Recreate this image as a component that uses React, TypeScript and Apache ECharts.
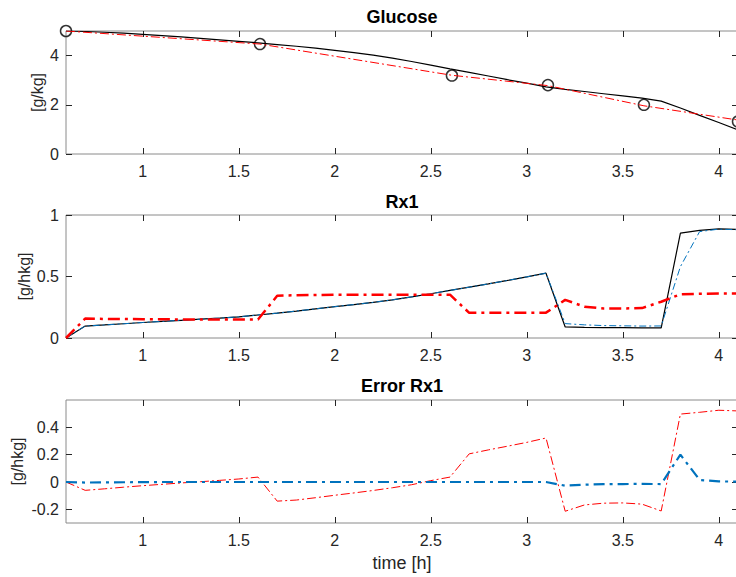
import React, { useEffect, useRef } from "react";
import * as echarts from "echarts";

// ---------- data ----------
const time = [
  0.6, 0.7, 0.8, 0.9, 1.0, 1.1, 1.2, 1.3, 1.4, 1.5, 1.6, 1.7, 1.8, 1.9, 2.0, 2.1, 2.2, 2.3,
  2.4, 2.5, 2.6, 2.7, 2.8, 2.9, 3.0, 3.1, 3.2, 3.3, 3.4, 3.5, 3.6, 3.7, 3.8, 3.9, 4.0, 4.1,
];

// Glucose (top)
const glucoseModel = [
  5.0, 4.98, 4.95, 4.91, 4.86, 4.81, 4.76, 4.7, 4.64, 4.58, 4.52, 4.45, 4.38, 4.3, 4.21, 4.12,
  4.02, 3.9, 3.76, 3.61, 3.46, 3.32, 3.17, 3.02, 2.88, 2.73, 2.63, 2.54, 2.45, 2.36, 2.27, 2.15,
  1.87, 1.57, 1.28, 0.98,
];
const measTimes = [0.6, 1.61, 2.61, 3.11, 3.61, 4.1];
const glucoseMeas = [5.0, 4.47, 3.19, 2.8, 2.0, 1.32];
const glucoseEst = [5.0, 4.47, 3.2, 2.78, 1.96, 1.38];

// Rx1 (middle)
const rx1True = [
  0, 0.097, 0.106, 0.116, 0.126, 0.135, 0.144, 0.153, 0.162, 0.172, 0.187, 0.202, 0.219, 0.237,
  0.255, 0.272, 0.29, 0.31, 0.334, 0.36, 0.387, 0.413, 0.44, 0.468, 0.497, 0.527, 0.09, 0.087,
  0.085, 0.084, 0.083, 0.083, 0.852, 0.875, 0.887, 0.882,
];
const rx1Filter = [
  0, 0.097, 0.106, 0.116, 0.126, 0.135, 0.144, 0.153, 0.162, 0.172, 0.187, 0.202, 0.219, 0.237,
  0.255, 0.272, 0.29, 0.31, 0.334, 0.36, 0.387, 0.413, 0.44, 0.468, 0.497, 0.527, 0.117, 0.107,
  0.101, 0.099, 0.097, 0.098, 0.58, 0.865, 0.885, 0.88,
];
const rx1Interp = [
  0, 0.158, 0.155, 0.154, 0.153, 0.152, 0.151, 0.151, 0.15, 0.15, 0.15, 0.343, 0.348, 0.35,
  0.351, 0.351, 0.352, 0.352, 0.352, 0.352, 0.352, 0.205, 0.205, 0.205, 0.205, 0.206, 0.31,
  0.255, 0.24, 0.24, 0.243, 0.295, 0.355, 0.36, 0.362, 0.362,
];

// Error Rx1 (bottom)
const errFilter = [
  0, -0.004, -0.003, -0.002, -0.001, 0, 0, 0, 0, 0, 0, 0, 0, 0, 0, 0, 0, 0, 0, 0, 0, 0, 0, 0, 0,
  0, -0.027, -0.02, -0.016, -0.015, -0.014, -0.015, 0.2, 0.015, 0.004, 0.003,
];
const errInterp = [
  0, -0.061, -0.05, -0.038, -0.027, -0.017, -0.007, 0.002, 0.012, 0.022, 0.036, -0.14, -0.132,
  -0.115, -0.097, -0.08, -0.062, -0.042, -0.02, 0.01, 0.036, 0.206, 0.235, 0.262, 0.29, 0.322,
  -0.214, -0.168, -0.155, -0.153, -0.162, -0.212, 0.497, 0.51, 0.525, 0.52,
];

const xTicks = [1, 1.5, 2, 2.5, 3, 3.5, 4];
const yTicksTop = [0, 2, 4];
const yTicksMid = [0, 0.5, 1];
const yTicksBot = [-0.2, 0, 0.2, 0.4];

const titles = ["Glucose", "Rx1", "Error Rx1"];
const yNames = ["[g/kg]", "[g/hkg]", "[g/hkg]"];
const xName = "time [h]";

// ---------- styling ----------
const FONT = "'Liberation Sans', Arial, Helvetica, sans-serif";
const TXT = "#262626";
const RED = "#FF0000";
const BLUE = "#0072BD";
const BLACK = "#000000";

const gridTops = [31, 215, 400];
const gridH = 123;
const gridLeft = 66;
const gridW = 672;
const yNameX = [37, 24, 17];

const pairs = (xs: number[], ys: number[]) => xs.map((x, i) => [x, ys[i]]);

export default function App() {
  const ref = useRef<HTMLDivElement>(null);

  useEffect(() => {
    if (!ref.current) return;
    const chart = echarts.init(ref.current, null, { renderer: "svg" });

    const tick = (vals: number[]) => ({
      show: true,
      inside: true,
      length: 6,
      customValues: vals,
      lineStyle: { color: TXT, width: 1 },
    });

    const yRanges = [
      [0, 5, yTicksTop],
      [0, 1, yTicksMid],
      [-0.3, 0.6, yTicksBot],
    ] as [number, number, number[]][];

    const grid = gridTops.map((t) => ({
      left: gridLeft,
      top: t,
      width: gridW,
      height: gridH,
      show: true,
      borderColor: "#8a8a8a",
      borderWidth: 1,
      backgroundColor: "transparent",
    }));

    const noLine = { show: false, onZero: false };

    const xAxis: any[] = [];
    const yAxis: any[] = [];
    gridTops.forEach((_, i) => {
      xAxis.push({
        type: "value",
        gridIndex: i,
        min: 0.6,
        max: 4.1,
        position: "bottom",
        axisLine: noLine,
        axisTick: tick(xTicks),
        axisLabel: {
          customValues: xTicks,
          fontSize: 16,
          color: TXT,
          fontFamily: FONT,
          margin: 9,
        },
        splitLine: { show: false },
      });
      xAxis.push({
        type: "value",
        gridIndex: i,
        min: 0.6,
        max: 4.1,
        position: "top",
        axisLine: noLine,
        axisTick: tick(xTicks),
        axisLabel: { show: false },
        splitLine: { show: false },
      });
      const [mn, mx, yt] = yRanges[i];
      yAxis.push({
        type: "value",
        gridIndex: i,
        min: mn,
        max: mx,
        position: "left",
        axisLine: noLine,
        axisTick: tick(yt),
        axisLabel: {
          customValues: yt,
          fontSize: 16,
          color: TXT,
          fontFamily: FONT,
          margin: 7,
        },
        splitLine: { show: false },
      });
      yAxis.push({
        type: "value",
        gridIndex: i,
        min: mn,
        max: mx,
        position: "right",
        axisLine: noLine,
        axisTick: tick(yt),
        axisLabel: { show: false },
        splitLine: { show: false },
      });
    });

    const line = (
      name: string,
      xs: number[],
      ys: number[],
      g: number,
      color: string,
      width: number,
      dash: any
    ) => ({
      name,
      type: "line",
      xAxisIndex: g * 2,
      yAxisIndex: g * 2,
      data: pairs(xs, ys),
      showSymbol: false,
      symbol: "none",
      lineStyle: { color, width, type: dash },
      emphasis: { disabled: true },
    });

    const series: any[] = [
      line("Glucose model", time, glucoseModel, 0, BLACK, 1.2, "solid"),
      line("Glucose estimate", measTimes, glucoseEst, 0, RED, 1, [9, 3, 2, 3]),
      {
        name: "Glucose measured",
        type: "scatter",
        xAxisIndex: 0,
        yAxisIndex: 0,
        data: pairs(measTimes, glucoseMeas),
        symbol: "circle",
        symbolSize: 11,
        clip: false,
        itemStyle: { color: "transparent", borderColor: BLACK, borderWidth: 1.5 },
        emphasis: { disabled: true },
      },
      line("Rx1 true", time, rx1True, 1, BLACK, 1.2, "solid"),
      line("Rx1 filter", time, rx1Filter, 1, BLUE, 1, [7, 3, 2, 3]),
      line("Rx1 interp", time, rx1Interp, 1, RED, 2.5, [12, 5, 3, 5]),
      line("Err interp", time, errInterp, 2, RED, 1, [9, 3, 2, 3]),
      line("Err filter", time, errFilter, 2, BLUE, 2.2, [11, 5, 3, 5]),
    ];

    const centerX = gridLeft + gridW / 2;
    const titleY = [17, 202, 386];
    const graphic: any[] = [];
    titles.forEach((t, i) => {
      graphic.push({
        type: "text",
        x: centerX,
        y: titleY[i],
        style: {
          text: t,
          align: "center",
          verticalAlign: "middle",
          fontSize: 18,
          fontWeight: "bold",
          fontFamily: FONT,
          fill: "#000",
        },
      });
      graphic.push({
        type: "text",
        x: yNameX[i],
        y: gridTops[i] + gridH / 2,
        rotation: Math.PI / 2,
        style: {
          text: yNames[i],
          align: "center",
          verticalAlign: "middle",
          fontSize: 16,
          fontFamily: FONT,
          fill: TXT,
        },
      });
    });
    graphic.push({
      type: "text",
      x: centerX,
      y: 563,
      style: {
        text: xName,
        align: "center",
        verticalAlign: "middle",
        fontSize: 18,
        fontFamily: FONT,
        fill: TXT,
      },
    });

    chart.setOption({
      animation: false,
      backgroundColor: "#fff",
      grid,
      xAxis,
      yAxis,
      series,
      graphic,
    });

    return () => chart.dispose();
  }, []);

  return (
    <div
      style={{
        position: "absolute",
        left: 0,
        top: 0,
        width: 736,
        height: 577,
        overflow: "hidden",
        background: "#fff",
      }}
    >
      <div ref={ref} style={{ width: 760, height: 577 }} />
    </div>
  );
}
